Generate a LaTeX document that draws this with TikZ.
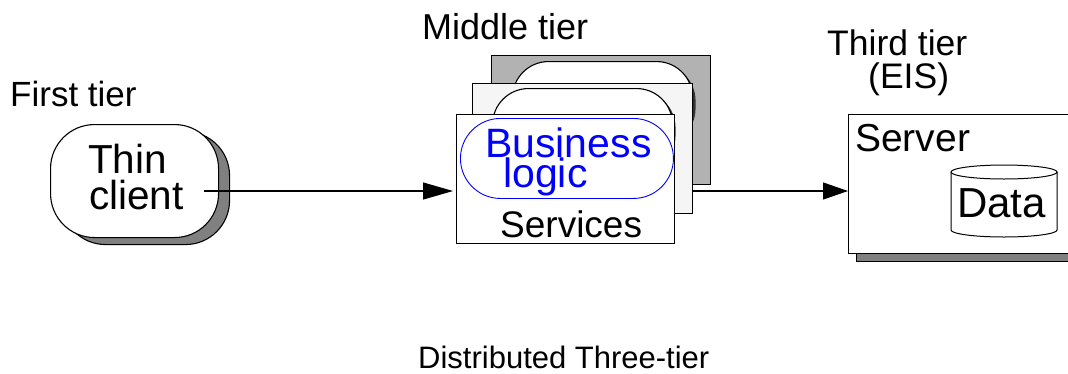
\documentclass[tikz,border=0pt]{standalone}
\usepackage{fontspec}
\setmainfont{Liberation Sans}
\usetikzlibrary{arrows.meta,shadows}
\begin{document}
\begin{tikzpicture}[x=1pt,y=-1pt,
  outl/.style={draw=black, line width=1.1pt},
  lbl/.style={inner sep=0pt, anchor=base west},
  fs/.style={font=\fontsize{#1}{#1}\selectfont},
  tierbox/.style={outl, rectangle, inner sep=0pt, anchor=north west},
  pill/.style={outl, fill=white, rectangle, rounded corners=#1, inner sep=0pt, anchor=north west},
  grayshadow/.style 2 args={general shadow={fill=black!50, draw=black, line width=1.1pt, shadow xshift=#1, shadow yshift=#2}},
  darkshadow/.style={general shadow={fill=black!80, shadow xshift=3pt, shadow yshift=-3pt}},
  conn/.style={line width=1.1pt, -{Triangle[length=#1, width=17pt]}},
]
\useasboundingbox (0,0) rectangle (1068,373);
\clip (0,0) rectangle (1068,373);

% First tier
\node[lbl, fs=35] (t1) at (10,106) {First tier};
\node[pill=44pt, minimum width=168pt, minimum height=113pt, grayshadow={11pt}{-7pt}] (thin) at (50,124) {};
\node[lbl, fs=40.5] (thinA) at (88,173) {Thin};
\node[lbl, fs=40.5] (thinB) at (89,209) {client};

% Middle tier
\node[lbl, fs=36] (t2) at (422,39) {Middle tier};
\node[tierbox, fill=black!30, minimum width=219pt, minimum height=129pt] (backbox) at (491,55) {};
\node[pill=36pt, minimum width=180pt, minimum height=80pt, darkshadow] (backpill) at (512,61) {};
\node[tierbox, fill=black!4, minimum width=220pt, minimum height=130pt] (midbox) at (472,83) {};
\node[pill=36pt, minimum width=180pt, minimum height=80pt, darkshadow] (midpill) at (492,88) {};
\node[tierbox, fill=white, minimum width=218pt, minimum height=129pt] (front) at (456,114) {};
\node[pill=40pt, draw=blue, line width=0.9pt, minimum width=213pt, minimum height=80pt] (logic) at (460,118) {};
\node[lbl, fs=41, text=blue] (bizA) at (485,157) {Business};
\node[lbl, fs=41, text=blue] (bizB) at (503,187) {logic};
\node[lbl, fs=37] (svc) at (500,237) {Services};

% Third tier
\node[lbl, fs=35.5] (t3a) at (827,55) {Third tier};
\node[lbl, fs=35.5] (t3b) at (868,88) {(EIS)};
\node[tierbox, fill=white, minimum width=240pt, minimum height=139pt, grayshadow={8pt}{-8pt}] (server) at (848,114) {};
\node[lbl, fs=39] (srv) at (855,151) {Server};
\draw[draw=black, line width=1pt, fill=white] (951,172) -- (951,230) arc[start angle=180, end angle=360, x radius=53pt, y radius=7pt] -- (1057,172);
\draw[draw=black, line width=1pt] (1004,172) ellipse[x radius=53pt, y radius=7pt];
\node[lbl, fs=42] (data) at (957,217) {Data};

% Connectors
\coordinate (a1) at (204,191);
\draw[conn=30pt, shorten >=3pt] (a1) -- (front.west |- a1);
\draw[conn=25pt] (midbox.east |- a1) -- (server.west |- a1);

% Caption
\node[lbl, fs=31] (cap) at (418,368) {Distributed Three-tier};
\end{tikzpicture}
\end{document}
